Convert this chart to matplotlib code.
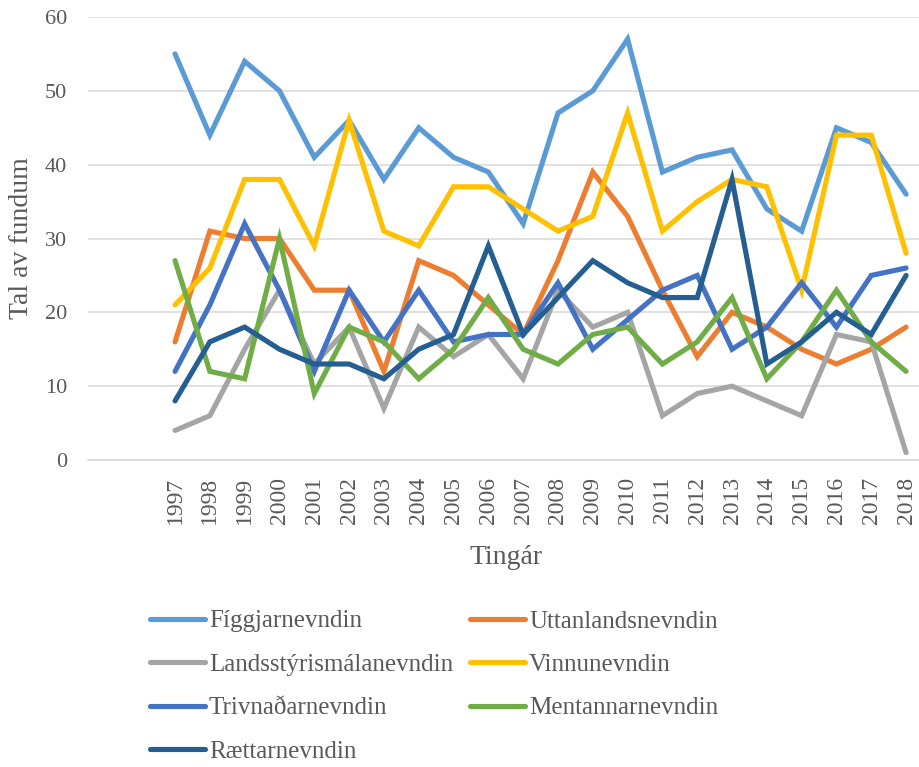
import numpy as np
import matplotlib
matplotlib.use("Agg")
import matplotlib.pyplot as plt

years = [str(y) for y in range(1997, 2019)]

figgjar = [55, 44, 54, 50, 41, 46, 38, 45, 41, 39, 32, 47, 50, 57, 39, 41, 42, 34, 31, 45, 43, 36]
uttanlands = [16, 31, 30, 30, 23, 23, 12, 27, 25, 21, 17, 27, 39, 33, 23, 14, 20, 18, 15, 13, 15, 18]
landsstyri = [4, 6, 15, 23, 13, 18, 7, 18, 14, 17, 11, 23, 18, 20, 6, 9, 10, 8, 6, 17, 16, 1]
vinnu = [21, 26, 38, 38, 29, 46, 31, 29, 37, 37, 34, 31, 33, 47, 31, 35, 38, 37, 23, 44, 44, 28]
trivnadar = [12, 21, 32, 23, 12, 23, 16, 23, 16, 17, 17, 24, 15, 19, 23, 25, 15, 18, 24, 18, 25, 26]
mentannar = [27, 12, 11, 30, 9, 18, 16, 11, 15, 22, 15, 13, 17, 18, 13, 16, 22, 11, 16, 23, 16, 12]
raettar = [8, 16, 18, 15, 13, 13, 11, 15, 17, 29, 17, 22, 27, 24, 22, 22, 38, 13, 16, 20, 17, 25]

series = [
    ("Fíggjarnevndin", figgjar, "#5B9BD5"),
    ("Uttanlandsnevndin", uttanlands, "#ED7D31"),
    ("Landsstýrismálanevndin", landsstyri, "#A5A5A5"),
    ("Vinnunevndin", vinnu, "#FFC000"),
    ("Trivnaðarnevndin", trivnadar, "#4472C4"),
    ("Mentannarnevndin", mentannar, "#70AD47"),
    ("Rættarnevndin", raettar, "#255E91"),
]

plt.rcParams["font.family"] = ["Liberation Serif", "DejaVu Serif"]
text_col = "#595959"

fig = plt.figure(figsize=(9.19, 7.67), dpi=100)
ax = fig.add_axes([88 / 919, 1 - 460 / 767, (923.5 - 88) / 919, (460 - 17) / 767])

x = np.arange(len(years))
handles = []
for name, vals, col in series:
    h, = ax.plot(x, vals, color=col, lw=3.7, label=name,
                 solid_capstyle="round", solid_joinstyle="miter")
    handles.append(h)

ax.set_xlim(-2.5, len(years) - 0.5)
ax.set_ylim(0, 60)
ax.set_yticks(range(0, 61, 10))
ax.set_xticks(x)
ax.set_xticklabels(years, rotation=90)
ax.grid(axis="y", color="#D9D9D9", lw=1.1)
ax.set_axisbelow(True)
for s in ["top", "right", "left"]:
    ax.spines[s].set_visible(False)
ax.spines["bottom"].set_color("#D9D9D9")
ax.spines["bottom"].set_linewidth(1.1)
ax.tick_params(axis="both", length=0, colors=text_col)
ax.tick_params(axis="y", labelsize=16, pad=15)
ax.tick_params(axis="x", labelsize=17, pad=12)

ax.set_ylabel("Tal av fundum", fontsize=20, color=text_col, labelpad=8)
ax.set_xlabel("Tingár", fontsize=20, color=text_col, labelpad=15)

# legend reads row by row in the reference
order = [0, 2, 4, 6, 1, 3, 5]
leg = fig.legend([handles[i] for i in order], [series[i][0] for i in order],
                 loc="upper left", bbox_to_anchor=(150 / 919, 1 - 610 / 767),
                 ncol=2, frameon=False, fontsize=18, handlelength=2.2,
                 handletextpad=0.15, columnspacing=0.7, labelspacing=0.84,
                 borderpad=0, borderaxespad=0)
for t in leg.get_texts():
    t.set_color(text_col)

fig.savefig("out.png", dpi=100)
